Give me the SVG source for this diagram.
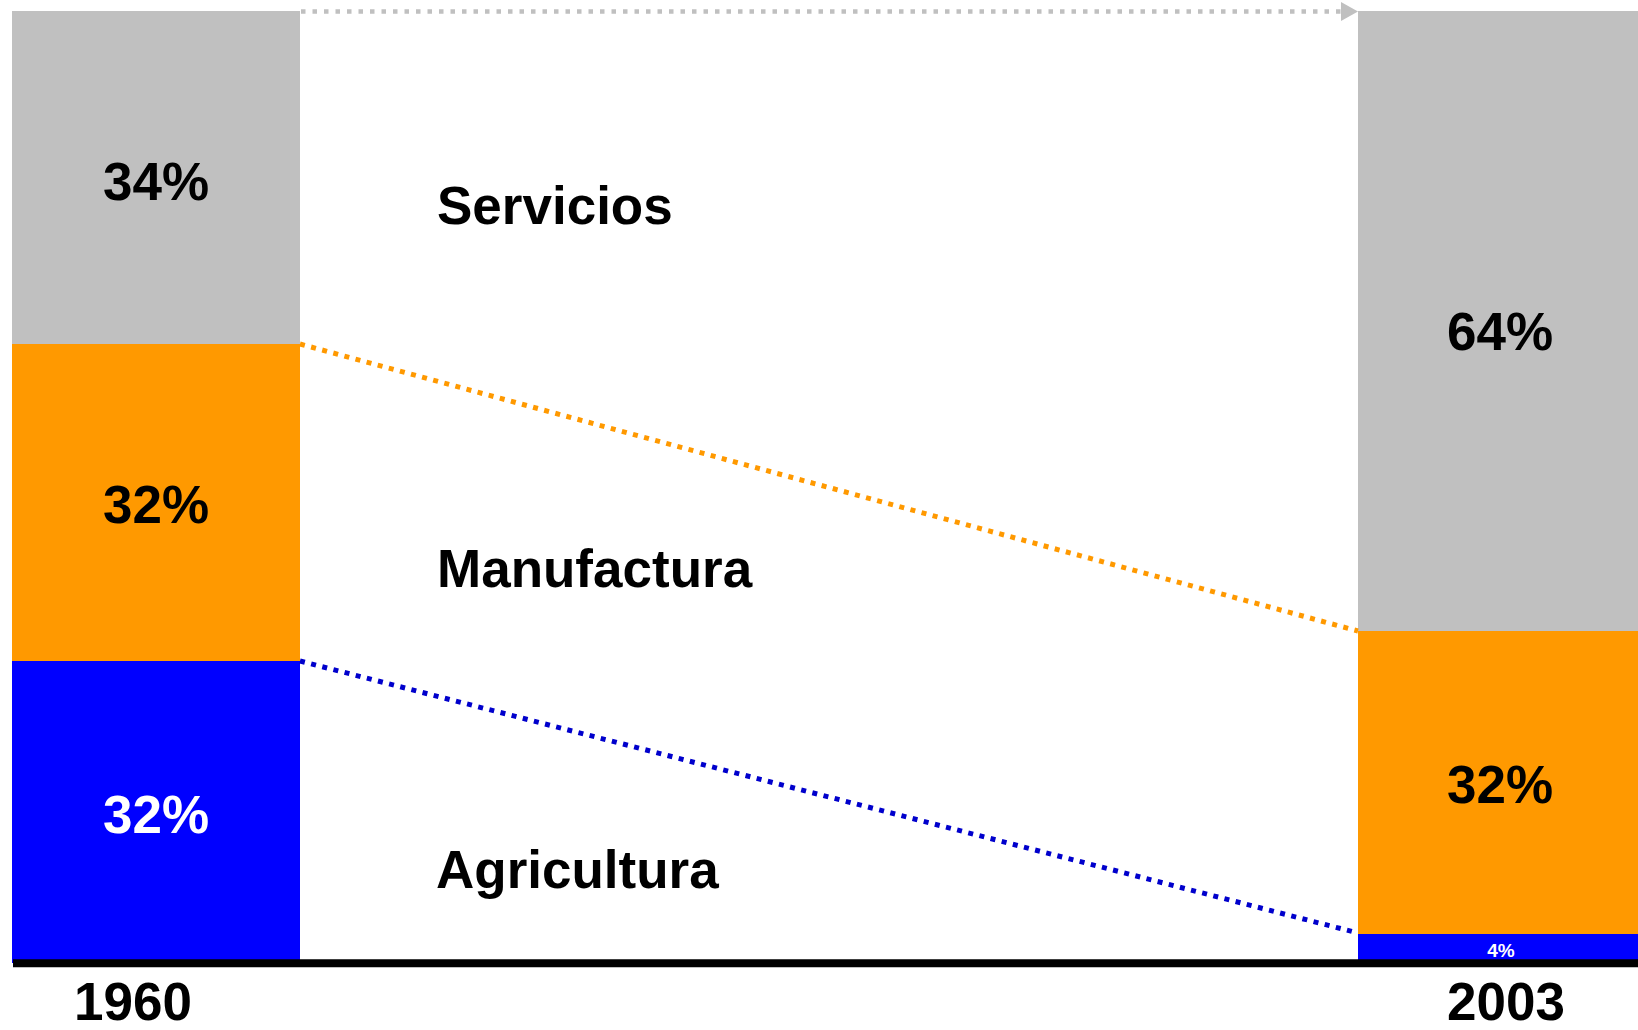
<svg xmlns="http://www.w3.org/2000/svg" width="1638" height="1030" viewBox="0 0 1638 1030">
<style>
.t{font-family:"Liberation Sans",Arial,sans-serif;font-weight:bold;font-size:53px;fill:#000}
.c{text-anchor:middle}
.w{fill:#fff}
</style>
<defs>
<marker id="ah" markerWidth="17" markerHeight="19" refX="17" refY="9.5" orient="auto" markerUnits="userSpaceOnUse">
<path d="M0,0 L17,9.5 L0,19 Z" fill="#C0C0C0"/>
</marker>
</defs>
<rect width="1638" height="1030" fill="#fff"/>
<g id="bar1960">
<rect x="12" y="11" width="288" height="333" fill="#C0C0C0"/>
<rect x="12" y="344" width="288" height="317" fill="#FF9900"/>
<rect x="12" y="661" width="288" height="302" fill="#0000FF"/>
<text class="t c" x="156" y="200">34%</text>
<text class="t c" x="156" y="523">32%</text>
<text class="t c w" x="156" y="833">32%</text>
</g>
<g id="bar2003">
<rect x="1358" y="11" width="280" height="620" fill="#C0C0C0"/>
<rect x="1358" y="631" width="280" height="303" fill="#FF9900"/>
<rect x="1358" y="934" width="280" height="28" fill="#0000FF"/>
<text class="t c" x="1500" y="350">64%</text>
<text class="t c" x="1500" y="803">32%</text>
<text class="t c w" x="1501" y="957" style="font-size:19px">4%</text>
</g>
<g id="labels">
<text class="t" x="437" y="224">Servicios</text>
<text class="t" x="437" y="587">Manufactura</text>
<text class="t" x="436" y="888">Agricultura</text>
<text class="t c" x="133" y="1020">1960</text>
<text class="t c" x="1506" y="1020">2003</text>
</g>
<g id="connectors">
<line x1="301" y1="11.5" x2="1358" y2="11.5" stroke="#C0C0C0" stroke-width="4.5" stroke-dasharray="4.5 7" marker-end="url(#ah)"/>
<line x1="300" y1="344" x2="1358" y2="631" stroke="#FF9900" stroke-width="5" stroke-dasharray="5 6.5"/>
<line x1="300" y1="661" x2="1358" y2="933" stroke="#0000CC" stroke-width="5" stroke-dasharray="5 6.5"/>
<line x1="13" y1="963.3" x2="1638" y2="963.3" stroke="#000" stroke-width="8"/>
</g>
</svg>
